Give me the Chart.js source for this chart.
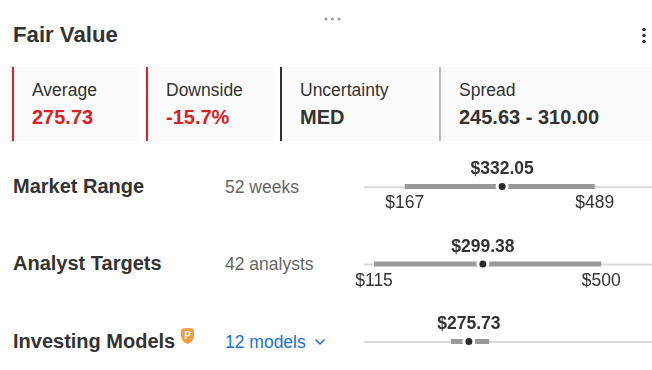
<!DOCTYPE html>
<html>
<head>
<meta charset="utf-8">
<title>Fair Value</title>
<script src="https://cdn.jsdelivr.net/npm/chart.js@4"></script>
<style>
    html, body { margin: 0; padding: 0; background: #fff; }
    body { position: relative; width: 652px; height: 370px; overflow: hidden; font-family: "Liberation Sans", Arial, sans-serif; color: #333; }
    .abs { position: absolute; white-space: nowrap; }
    .title { left: 13px; top: 22px; font-size: 22.2px; line-height: 26px; font-weight: bold; }
    .card { position: absolute; top: 67px; height: 74px; background: #fafafa; border-left: 2px solid #333; box-sizing: border-box; }
    .card .lab { position: absolute; top: 12px; font-size: 17.5px; line-height: 22px; white-space: nowrap; }
    .card .val { position: absolute; top: 38px; font-size: 20px; line-height: 24px; font-weight: bold; white-space: nowrap; }
    .red { color: #d91e24; }
    .row-name { left: 13px; font-size: 20px; line-height: 24px; font-weight: bold; }
    .row-sub { left: 225px; font-size: 17.5px; line-height: 22px; color: #666; }
    .blue { color: #1a6fe8; }
    #fairValueChart { position: absolute; left: 340px; top: 147px; }
</style>
</head>
<body>
<svg class="abs" style="left:324px;top:16px" width="18" height="6"><circle cx="2" cy="3" r="1.5" fill="#999"/><circle cx="8.5" cy="3" r="1.5" fill="#999"/><circle cx="15" cy="3" r="1.5" fill="#999"/></svg>
<div class="abs title">Fair Value</div>
<svg class="abs" style="left:641px;top:27px" width="6" height="17"><circle cx="3" cy="2.5" r="1.8" fill="#333"/><circle cx="3" cy="8.5" r="1.8" fill="#333"/><circle cx="3" cy="14.5" r="1.8" fill="#333"/></svg>

<div class="card" style="left:12px;width:127px;border-left-color:#d91e24"><div class="lab" style="left:18px">Average</div><div class="val red" style="left:18px">275.73</div></div>
<div class="card" style="left:146px;width:127px;border-left-color:#d91e24"><div class="lab" style="left:18px">Downside</div><div class="val red" style="left:18px">-15.7%</div></div>
<div class="card" style="left:280px;width:152px"><div class="lab" style="left:18px">Uncertainty</div><div class="val" style="left:18px">MED</div></div>
<div class="card" style="left:439px;width:213px;border-left-color:#bbb"><div class="lab" style="left:18px">Spread</div><div class="val" style="left:18px">245.63 - 310.00</div></div>

<canvas id="fairValueChart" width="312" height="223"></canvas>

<div class="abs row-name" style="top:174px">Market Range</div>
<div class="abs row-sub" style="top:176px">52 weeks</div>
<div class="abs row-name" style="top:251px">Analyst Targets</div>
<div class="abs row-sub" style="top:253px">42 analysts</div>
<div class="abs row-name" style="top:329px">Investing Models</div>
<svg class="abs" style="left:180px;top:327px" width="15" height="18" viewBox="0 0 15 18"><path d="M2.5 1.5 Q7.5 0.5 12.5 1.5 Q14 2 14 4 L14 9 Q14 14 7.5 17 Q1 14 1 9 L1 4 Q1 2 2.5 1.5 Z" fill="#f59a3c"/><text x="7.5" y="12" font-size="10" font-weight="bold" text-anchor="middle" fill="#fff" font-family="Liberation Sans">P</text></svg>
<div class="abs row-sub blue" style="top:331px">12 models</div>
<svg class="abs" style="left:314px;top:338px" width="12" height="8"><path d="M1.5 1.5 L6 6 L10.5 1.5" fill="none" stroke="#1a6fe8" stroke-width="1.5"/></svg>

<script>
const rowLabels = ['Market Range', 'Analyst Targets', 'Investing Models'];
const lowValues = [167, 115, 245.63];
const highValues = [489, 500, 310];
const fairValues = [332.05, 299.38, 275.73];
const tickLabels = [['$167', '$489'], ['$115', '$500'], []];
const axisMin = 98;
const axisMax = 586;

const money = v => '$' + v.toFixed(2);

// one line per row, dark dot on top with a white ring
const trackSets = rowLabels.map((name, i) => ({
    label: name + ' track',
    data: [{ x: axisMin, y: i + 0.008 }, { x: axisMax, y: i + 0.008 }],
    showLine: true,
    borderColor: '#d9d9d9',
    borderWidth: 2,
    pointRadius: 0,
    order: 3
}));
const rangeSets = rowLabels.map((name, i) => ({
    label: name + ' range',
    data: [{ x: lowValues[i], y: i }, { x: highValues[i], y: i }],
    showLine: true,
    borderColor: '#999999',
    borderWidth: 5,
    pointRadius: 0,
    order: 2
}));
const dotSet = {
    label: 'Fair value',
    data: fairValues.map((v, i) => ({ x: v, y: i })),
    pointRadius: 5,
    pointBackgroundColor: '#2b2b2b',
    pointBorderColor: '#ffffff',
    pointBorderWidth: 3,
    order: 1
};

// value above the dot and the low / high labels under the range
const rangeLabels = {
    id: 'rangeLabels',
    afterDatasetsDraw(chart) {
        const { ctx, scales: { x, y } } = chart;
        ctx.save();
        ctx.fillStyle = '#333';
        ctx.textAlign = 'center';
        ctx.textBaseline = 'middle';
        fairValues.forEach((v, i) => {
            ctx.font = 'bold 17.5px "Liberation Sans"';
            ctx.fillText(money(v), x.getPixelForValue(v), y.getPixelForValue(i) - 17);
            if (tickLabels[i].length) {
                ctx.font = '17.5px "Liberation Sans"';
                ctx.fillText(tickLabels[i][0], x.getPixelForValue(lowValues[i]), y.getPixelForValue(i) + 17);
                ctx.fillText(tickLabels[i][1], x.getPixelForValue(highValues[i]), y.getPixelForValue(i) + 17);
            }
        });
        ctx.restore();
    }
};

new Chart(document.getElementById('fairValueChart'), {
    type: 'scatter',
    data: { datasets: [dotSet, ...rangeSets, ...trackSets] },
    options: {
        responsive: false,
        animation: false,
        layout: { autoPadding: false, padding: { left: 24, right: 0, top: 0, bottom: 0 } },
        plugins: { legend: { display: false }, tooltip: { enabled: false } },
        scales: {
            x: { type: 'linear', display: false, min: axisMin, max: axisMax },
            y: { type: 'linear', display: false, reverse: true, min: -0.51, max: 2.368 }
        }
    },
    plugins: [rangeLabels]
});
</script>
</body>
</html>
